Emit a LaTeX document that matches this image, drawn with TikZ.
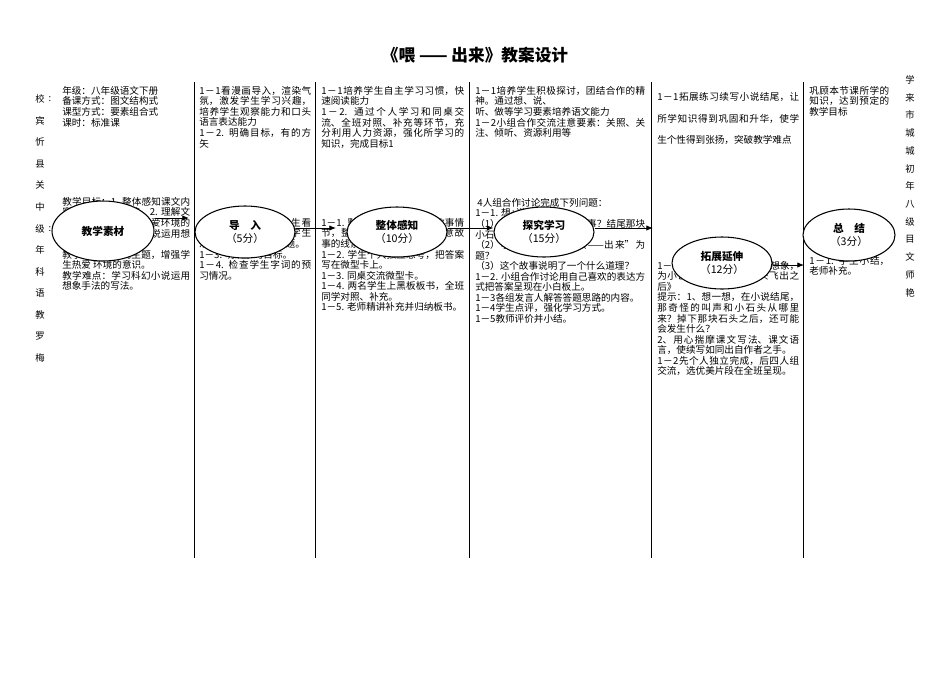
\documentclass[tikz,border=0pt]{standalone}
\usepackage{fontspec}
\setmainfont{Noto Sans CJK SC}
\XeTeXlinebreaklocale "zh"
\XeTeXlinebreakskip=0pt plus 1pt
\usetikzlibrary{shapes.geometric,arrows.meta}
\begin{document}
\begin{tikzpicture}[x=0.75pt,y=-0.75pt,
  txt/.style={anchor=north west,inner sep=0pt,align=justify,font=\fontsize{7.2pt}{7.9pt}\selectfont},
  stage/.style={ellipse,draw,fill=white,thick,minimum width=#1*0.75pt,align=center,font=\fontsize{8pt}{9.5pt}\selectfont,inner sep=0pt},
  vtext/.style={font=\fontsize{7pt}{8pt}\selectfont,inner sep=0pt},
  col/.style={line width=0.6pt},
  arr/.style={-{Latex[length=5pt,width=4pt]},line width=0.6pt}]
\useasboundingbox (0,0) rectangle (950,672);
\node[font=\fontsize{12.5pt}{14pt}\selectfont\bfseries] (title) at (475,55) {《喂\ ——\ 出来》教案设计};
\foreach \x/\n in {194/a,315/b,469/c,651/d,803/e}{\draw[col] (\x,82) -- (\x,558);}
% left vertical text
\foreach \c [count=\i] in {校,宾,忻,县,关,中,级,年,科,语,教,罗,梅}{
  \node[vtext] (l\i) at (40,{99+(\i-1)*21.6}) {\c};}
\node[vtext] (lc1) at (50,99) {:};
\node[vtext] (lc2) at (50,229) {:};
% right vertical text
\foreach \c [count=\i] in {学,来,市,城,城,初,年,八,级,目,文,师,艳}{
  \node[vtext] (r\i) at (910,{80+(\i-1)*17.7}) {\c};}
% column 1
\node[txt,text width=130*0.75pt] (t1a) at (62,86) {年级：八年级语文下册\\备课方式：图文结构式\\课型方式：要素组合式\\课时：标准课};
\node[txt,text width=128*0.75pt] (t1b) at (62,197) {教学目标：1. 整体感知课文内容，梳理故事情节。2. 理解文章内容，培养学生热爱环境的意识。3. 学习科幻小说运用想象手法的写法。\\教学重点：探究主题，增强学生热爱 环境的意识。\\教学难点：学习科幻小说运用想象手法的写法。};
% column 2
\node[txt,text width=112*0.75pt] (t2a) at (199,86) {1－1看漫画导入，渲染气氛，激发学生学习兴趣，培养学生观察能力和口头语言表达能力\\1－2. 明确目标，有的方矢};
\node[txt,text width=112*0.75pt] (t2b) at (199,218) {1－1. 出示漫画，学生看漫画说感受。1－2. 学生观察和科学有关的问题。\\1－3. 明确学习目标。\\1－4. 检查学生字词的预习情况。};
% column 3
\node[txt,text width=143*0.75pt] (t3a) at (321,86) {1－1培养学生自主学习习惯，快速阅读能力\\1－2. 通过个人学习和同桌交流、全班对照、补充等环节，充分利用人力资源，强化所学习的知识，完成目标1};
\node[txt,text width=143*0.75pt] (t3b) at (321,218) {1－1. 默读课文，整体把握故事情节，整体把握课文内容，注意故事的线索。\\1－2. 学生个人独立思考，把答案写在微型卡上。\\1－3. 同桌交流微型卡。\\1－4. 两名学生上黑板板书，全班同学对照、补充。\\1－5. 老师精讲补充并归纳板书。};
% column 4
\node[txt,text width=170*0.75pt] (t4a) at (475,86) {1－1培养学生积极探讨，团结合作的精神。通过想、说、\\听、做等学习要素培养语文能力\\1－2小组合作交流注意要素：关照、关注、倾听、资源利用等};
\node[txt,text width=170*0.75pt] (t4b) at (475,198) {\ 4人组合作讨论完成下列问题：\\1－1. 想+讲+做：\\（1）小说中的洞是怎么回事？结尾那块小石头说明什么？\\（2）小说为什么用“喂——出来”为题？\\（3）这个故事说明了一个什么道理？\\1－2. 小组合作讨论用自己喜欢的表达方式把答案呈现在小白板上。\\1－3各组发言人解答答题思路的内容。\\1－4学生点评，强化学习方式。\\1－5教师评价并小结。};
% column 5
\node[txt,text width=142*0.75pt,font=\fontsize{7.2pt}{16.3pt}\selectfont] (t5a) at (657,92) {1－1拓展练习续写小说结尾，让所学知识得到巩固和升华，使学生个性得到张扬，突破教学难点};
\node[txt,text width=142*0.75pt] (t5b) at (657,261) {1－1. 发挥想象，进行合理想象，为小说续写结尾《小石头飞出之后》\\\ 提示：1、想一想，在小说结尾，那奇怪的叫声和小石头从哪里来？掉下那块石头之后，还可能会发生什么？\\\ 2、用心揣摩课文写法、课文语言，使续写如同出自作者之手。\\1－2先个人独立完成，后四人组交流，选优美片段在全班呈现。};
% column 6
\node[txt,text width=80*0.75pt] (t6a) at (809,86) {巩顾本节课所学的知识，达到预定的教学目标};
\node[txt,text width=80*0.75pt] (t6b) at (809,256) {1－1. 学生小结，老师补充。};
% stages
\node[stage=102,minimum height=60*0.75pt] (s1) at (103,231) {\bfseries 教学素材};
\node[stage=100,minimum height=52*0.75pt] (s2) at (245,232) {\bfseries 导\quad 入\\（5分）};
\node[stage=100,minimum height=50*0.75pt] (s3) at (397,232) {\bfseries 整体感知\\（10分）};
\node[stage=100,minimum height=50*0.75pt] (s4) at (544,232) {\bfseries 探究学习\\（15分）};
\node[stage=100,minimum height=52*0.75pt] (s5) at (722,263) {\bfseries 拓展延伸\\（12分）};
\node[stage=92,minimum height=52*0.75pt] (s6) at (849,235) {\bfseries 总\quad 结\\（3分）};
\coordinate (e1) at (189,218);
\coordinate (e2) at (336,228);
\coordinate (e4) at (653,228);
\coordinate (e5) at (804,265);
\draw[arr] (s1.east |- e1) -- (e1);
\draw[arr] (s2.east |- e2) -- (e2);
\draw[arr] (s3.east |- e2) -- (s4.west |- e2);
\draw[arr] (s4.east |- e4) -- (e4);
\draw[arr] (s5.east |- e5) -- (e5);
\end{tikzpicture}
\end{document}
